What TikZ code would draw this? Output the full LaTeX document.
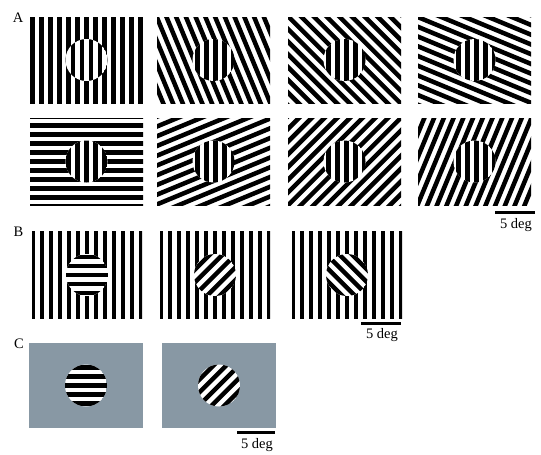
\documentclass[tikz,border=0pt]{standalone}
\usepackage{fontspec}
\setmainfont{Liberation Serif}
\definecolor{bggray}{RGB}{136,152,164}
\newcommand\grat[6]{% cx, cy, angle, period, half extent, phase
  \begin{scope}[shift={({#1},{#2})},rotate=#3]
    \foreach \k in {-14,...,14}{\fill[black] ({\k*#4+#6-#4/4},{-#5}) rectangle ({\k*#4+#6+#4/4},{#5});}
  \end{scope}}
\newcommand\surr[6]{% x1,y1,x2,y2,angle,phase
  \begin{scope}
    \clip (#1,#2) rectangle (#3,#4);
    \fill[white] (#1,#2) rectangle (#3,#4);
    \grat{(#1+#3)/2}{(#2+#4)/2}{#5}{9}{100}{#6}
  \end{scope}}
\newcommand\graysurr[4]{%
  \fill[bggray] (#1,#2) rectangle (#3,#4);}
\newcommand\cent[5]{% cx, cy, r, angle, phase
  \begin{scope}
    \clip (#1,#2) circle[radius=#3pt];
    \fill[white] (#1,#2) circle[radius=#3pt];
    \grat{#1}{#2}{#4}{9}{30}{#5}
  \end{scope}}
\tikzset{lbl/.style={font=\fontsize{14.5}{14.5}\selectfont, inner sep=0pt},
  bar/.style={line width=3pt}}
\begin{document}
\begin{tikzpicture}[x=1pt,y=-1pt]
\useasboundingbox (0,0) rectangle (541,455);
\fill[white] (0,0) rectangle (541,455);
% Row A1
\surr{30}{17}{143}{103}{0}{0}      \cent{86.5}{60}{21}{0}{4.5}
\surr{157}{17}{270}{103}{22.5}{0}  \cent{213.5}{60}{21}{0}{2}
\surr{288}{17}{401}{103}{45}{0}    \cent{344.5}{60}{21}{0}{2}
\surr{418}{17}{531}{103}{67.5}{0}  \cent{474.5}{60}{21}{0}{2}
% Row A2
\surr{30}{118}{143}{205}{90}{0}      \cent{86.5}{161.5}{21}{0}{0}
\surr{157}{118}{270}{205}{112.5}{0}  \cent{213.5}{161.5}{21}{0}{2}
\surr{288}{118}{401}{205}{135}{0}    \cent{344.5}{161.5}{21}{0}{2}
\surr{418}{118}{531}{205}{157.5}{0}  \cent{474.5}{161.5}{21}{0}{2}
% Row B
\surr{32}{231}{142}{318}{0}{0}    \cent{87}{275}{21}{90}{0}
\surr{160}{231}{270}{318}{0}{0}   \cent{215}{275}{21}{-45}{0}
\surr{292}{231}{402}{318}{0}{0}   \cent{347}{275}{21}{45}{0}
% Row C
\graysurr{29}{343}{143}{428}    \cent{86}{385.5}{21}{90}{0}
\graysurr{162}{343}{276}{428}   \cent{219}{385.5}{21}{-45}{0}
% scale bars
\coordinate (a1) at (495,212); \coordinate (a2) at (535,212);
\draw[bar] (a1) -- (a2);
\node[lbl] (sa) at (516,225) {5 deg};
\coordinate (b1) at (361,323); \coordinate (b2) at (401,323);
\draw[bar] (b1) -- (b2);
\node[lbl] (sb) at (382,335) {5 deg};
\coordinate (c1) at (237,432); \coordinate (c2) at (275,432);
\draw[bar] (c1) -- (c2);
\node[lbl] (sc) at (257,445) {5 deg};
% labels
\node[lbl] (la) at (18,18) {A};
\node[lbl] (lb) at (18.5,232) {B};
\node[lbl] (lc) at (19,344) {C};
\end{tikzpicture}
\end{document}
